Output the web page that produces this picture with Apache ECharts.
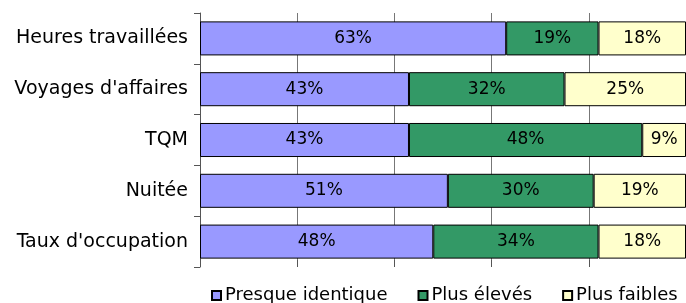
<!DOCTYPE html>
<html>
<head>
<meta charset="utf-8">
<script src="https://cdn.jsdelivr.net/npm/echarts@6/dist/echarts.min.js"></script>
<style>
  html, body { margin: 0; padding: 0; background: #fff; }
  #chart { width: 686px; height: 303px; }
</style>
</head>
<body>
<div id="chart"></div>
<script>
var categories = ['Heures travaillées', "Voyages d'affaires", 'TQM', 'Nuitée', "Taux d'occupation"]
var seriesNames = ['Presque identique', 'Plus élevés', 'Plus faibles']
var identique = [63, 43, 43, 51, 48]
var eleves = [19, 32, 48, 30, 34]
var faibles = [18, 25, 9, 19, 18]
var xTicks = [0, 20, 40, 60, 80, 100]

var colors = ['#9999FF', '#339966', '#FFFFCC']
var fontName = 'DejaVu Sans'

function makeSeries (name, values, color) {
  return {
    name: name,
    type: 'bar',
    stack: 'total',
    data: values,
    barCategoryGap: '33%',
    itemStyle: {
      color: color,
      borderColor: '#000',
      borderWidth: 1
    },
    label: {
      show: true,
      position: 'inside',
      color: '#000',
      fontFamily: fontName,
      fontSize: 17,
      padding: [3, 0, 0, 0],
      formatter: function (p) {
        return p.value + '%'
      }
    }
  }
}

var myChart = echarts.init(document.getElementById('chart'))
var option = {
  animation: false,
  backgroundColor: '#fff',
  grid: {
    left: 200,
    top: 13,
    width: 491,
    height: 254
  },
  legend: {
    left: 211,
    top: 286,
    padding: 0,
    icon: 'rect',
    itemWidth: 9,
    itemHeight: 9,
    itemGap: 30,
    textStyle: {
      color: '#000',
      fontFamily: fontName,
      fontSize: 18,
      lineHeight: 19,
      padding: [0, 0, 0, -1]
    },
    data: seriesNames
  },
  xAxis: {
    type: 'value',
    min: xTicks[0],
    max: xTicks[xTicks.length - 1],
    interval: 20,
    axisLine: { show: false },
    axisLabel: { show: false },
    axisTick: {
      show: true,
      inside: true,
      length: 7,
      lineStyle: { color: '#555' }
    },
    splitLine: {
      show: true,
      lineStyle: { color: '#777', width: 1 }
    }
  },
  yAxis: {
    type: 'category',
    inverse: true,
    data: categories,
    axisLine: {
      show: true,
      lineStyle: { color: '#555', width: 1 }
    },
    axisTick: {
      show: true,
      length: 6,
      lineStyle: { color: '#555' }
    },
    axisLabel: {
      color: '#000',
      fontFamily: fontName,
      fontSize: 19,
      margin: 12,
      padding: [5, 0, 0, 0]
    }
  },
  series: [
    makeSeries(seriesNames[0], identique, colors[0]),
    makeSeries(seriesNames[1], eleves, colors[1]),
    makeSeries(seriesNames[2], faibles, colors[2])
  ]
}
myChart.setOption(option)
</script>
</body>
</html>
